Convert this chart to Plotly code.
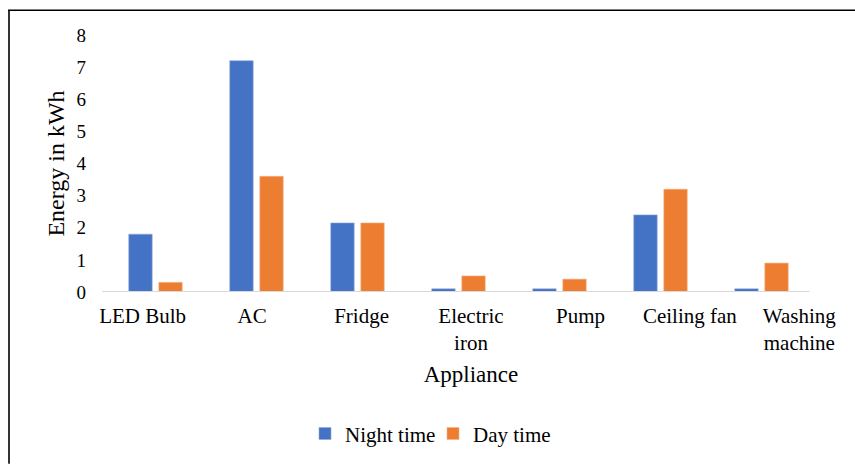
import plotly.graph_objects as go

# Appliance energy use, split into night-time and day-time consumption (kWh)
appliances = ["LED Bulb", "AC", "Fridge", "Electric<br>iron", "Pump", "Ceiling fan", "Washing<br>machine"]
night_time = [1.8, 7.2, 2.15, 0.1, 0.1, 2.4, 0.1]
day_time = [0.3, 3.6, 2.15, 0.5, 0.4, 3.2, 0.9]
y_ticks = [0, 1, 2, 3, 4, 5, 6, 7, 8]

W, H = 855, 467
ML, MR, MT, MB = 102, 15, 35, 173
PW = W - ML - MR
PH = H - MT - MB
SERIF = "Liberation Serif"


def px_x(p):
    """Pixel column -> paper x."""
    return (p - ML) / PW


def px_y(p):
    """Pixel row -> paper y."""
    return (H - MB - p) / PH


def serif(size):
    return dict(family=SERIF, size=size, color="black")


fig = go.Figure()
fig.add_trace(go.Bar(name="Night time", x=appliances, y=night_time,
                     marker=dict(color="#4472C4", line=dict(color="#8fa9dc", width=0.6))))
fig.add_trace(go.Bar(name="Day time", x=appliances, y=day_time,
                     marker=dict(color="#ED7D31", line=dict(color="#f4b183", width=0.6))))
# category labels live on their own axis, slightly wider than the bar axis
fig.add_trace(go.Scatter(x=appliances, y=[None] * len(appliances), xaxis="x2", yaxis="y",
                         mode="markers", showlegend=False, hoverinfo="skip"))

fig.update_layout(
    width=W, height=H,
    margin=dict(l=ML, r=MR, t=MT, b=MB),
    paper_bgcolor="white",
    plot_bgcolor="rgba(0,0,0,0)",
    font=serif(21),
    barmode="group",
    bargap=0.405,
    bargroupgap=0.22,
    xaxis=dict(domain=[px_x(105), px_x(812)], type="category", showticklabels=False,
               showline=False, ticks="", showgrid=False, zeroline=False),
    xaxis2=dict(domain=[0, 1], anchor="y", type="category", showline=False, ticks="",
                showgrid=False, zeroline=False, tickfont=serif(21),
                ticklabelstandoff=9,
                title=dict(text="Appliance", font=serif(23), standoff=11)),
    yaxis=dict(range=[0, 8], tickvals=y_ticks, showgrid=False, showline=False,
               zeroline=False, ticks="", tickfont=serif(19), ticklabelstandoff=18,
               title=dict(text="Energy in kWh", font=serif(24), standoff=5)),
    legend=dict(orientation="h", x=px_x(305), xanchor="left", y=px_y(437), yanchor="middle",
                font=serif(21), itemwidth=30, entrywidth=83, traceorder="normal"),
    shapes=[
        # category baseline
        dict(type="line", xref="paper", yref="y", x0=0, x1=px_x(809.5), y0=0, y1=0,
             line=dict(color="#d9d9d9", width=2)),
        # frame edges
        dict(type="line", xref="paper", yref="paper", x0=px_x(8), x1=px_x(855),
             y0=px_y(10), y1=px_y(10), line=dict(color="black", width=1.6)),
        dict(type="line", xref="paper", yref="paper", x0=px_x(9), x1=px_x(9),
             y0=px_y(10), y1=px_y(467), line=dict(color="black", width=1.6)),
    ],
)

fig.write_html("out.html")
